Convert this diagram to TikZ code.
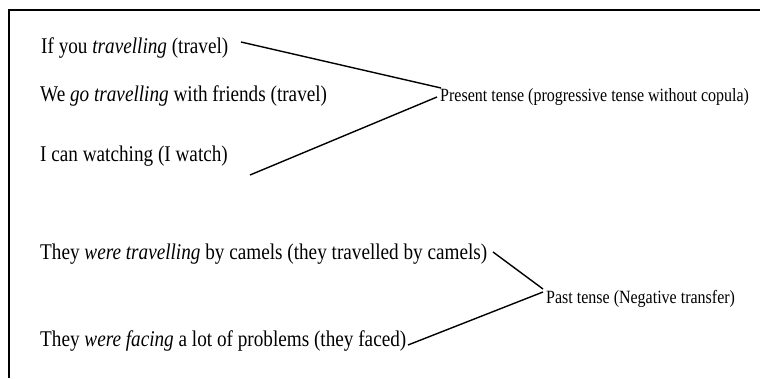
\documentclass[tikz,border=0pt]{standalone}
\usepackage{fontspec}
\setmainfont{Liberation Serif}
\newcommand{\tallt}[1]{\scalebox{1}[1.17]{#1}}
\begin{document}
\begin{tikzpicture}[x=1pt,y=-1pt,
  sent/.style={anchor=base west,inner sep=0pt,font=\fontsize{19.2}{22}\selectfont},
  lab/.style={anchor=base west,inner sep=0pt,font=\fontsize{16}{19}\selectfont},
  conn/.style={line width=1.4pt}]
\useasboundingbox (0,0) rectangle (760,378);
\draw[line width=2pt] (9,378) -- (9,10) -- (760,10);
\node[sent] (s1) at (41,53) {\tallt{If you \textit{travelling} (travel)}};
\node[sent] (s2) at (40,101) {\tallt{We \textit{go travelling} with friends (travel)}};
\node[sent] (s3) at (40,161) {\tallt{I can watching (I watch)}};
\node[sent] (s4) at (40,259) {\tallt{They \textit{were travelling} by camels (they travelled by camels)}};
\node[sent] (s5) at (40,346) {\tallt{They \textit{were facing} a lot of problems (they faced)}};
\node[lab] (p1) at (440,101) {\tallt{Present tense (progressive tense without copula)}};
\node[lab] (p2) at (546,303) {\tallt{Past tense (Negative transfer)}};
\coordinate (c1) at (241,42);
\coordinate (c2) at (250,175);
\coordinate (c3) at (493,252);
\coordinate (c4) at (408,345);
\coordinate (e1) at (441,88);
\coordinate (e2) at (437,97);
\coordinate (e3) at (543,289);
\coordinate (e4) at (543,292);
\draw[conn] (c1) -- (e1);
\draw[conn] (c2) -- (e2);
\draw[conn] (c3) -- (e3);
\draw[conn] (c4) -- (e4);
\end{tikzpicture}
\end{document}
